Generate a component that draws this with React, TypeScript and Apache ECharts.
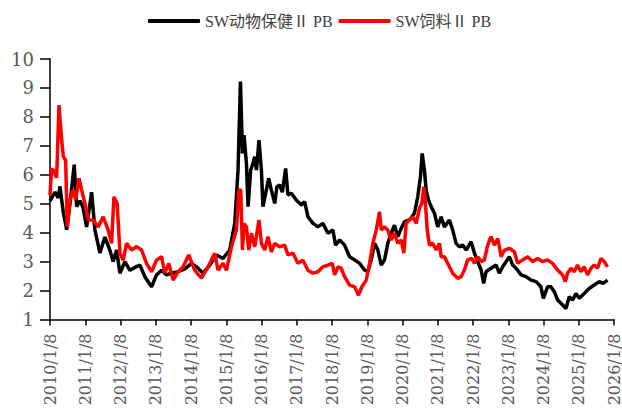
import React, { useEffect, useRef } from "react";
import * as echarts from "echarts";

const seriesNames = ["SW动物保健Ⅱ PB", "SW饲料Ⅱ PB"];
const yearTicks = [2010, 2011, 2012, 2013, 2014, 2015, 2016, 2017, 2018, 2019, 2020, 2021, 2022, 2023, 2024, 2025, 2026];

const blackDates = [
  "2010-01-08", "2010-03-01", "2010-04-04", "2010-04-21", "2010-05-26", "2010-06-30", "2010-08-03", "2010-09-16",
  "2010-10-11", "2010-11-14", "2010-12-18", "2011-01-22", "2011-03-15", "2011-04-18", "2011-06-09", "2011-07-31",
  "2011-09-20", "2011-10-24", "2011-11-29", "2012-01-02", "2012-02-23", "2012-04-14", "2012-06-05", "2012-07-27",
  "2012-09-16", "2012-11-25", "2013-01-16", "2013-03-09", "2013-04-30", "2013-06-20", "2013-08-28", "2013-11-05",
  "2014-01-13", "2014-03-06", "2014-05-13", "2014-07-22", "2014-09-29", "2014-12-06", "2015-02-13", "2015-04-06",
  "2015-05-10", "2015-06-04", "2015-06-25", "2015-07-11", "2015-08-05", "2015-08-22", "2015-09-18", "2015-10-12",
  "2015-10-30", "2015-11-17", "2015-12-13", "2016-01-07", "2016-01-23", "2016-02-20", "2016-03-22", "2016-04-19",
  "2016-05-24", "2016-06-16", "2016-07-14", "2016-08-11", "2016-09-14", "2016-10-08", "2016-11-12", "2017-01-03",
  "2017-02-24", "2017-03-30", "2017-05-04", "2017-06-25", "2017-08-15", "2017-10-06", "2017-11-27", "2018-01-17",
  "2018-02-14", "2018-03-28", "2018-05-18", "2018-07-09", "2018-08-30", "2018-10-21", "2018-12-11", "2019-01-14",
  "2019-02-18", "2019-03-25", "2019-04-28", "2019-06-02", "2019-07-06", "2019-08-09", "2019-09-13", "2019-10-17",
  "2019-11-21", "2019-12-26", "2020-01-29", "2020-03-20", "2020-05-11", "2020-06-14", "2020-07-12", "2020-07-30",
  "2020-08-22", "2020-09-09", "2020-10-03", "2020-10-31", "2020-12-04", "2021-01-08", "2021-02-12", "2021-03-18",
  "2021-05-09", "2021-06-12", "2021-07-17", "2021-08-21", "2021-09-24", "2021-10-29", "2021-12-20", "2022-01-23",
  "2022-03-05", "2022-04-02", "2022-04-29", "2022-05-23", "2022-07-14", "2022-09-04", "2022-10-08", "2022-11-11",
  "2022-12-17", "2023-01-19", "2023-02-23", "2023-03-30", "2023-05-21", "2023-07-11", "2023-09-01", "2023-10-23",
  "2023-12-13", "2024-01-06", "2024-02-19", "2024-03-25", "2024-04-29", "2024-06-02", "2024-07-24", "2024-08-28",
  "2024-10-01", "2024-11-04", "2024-12-09", "2025-01-13", "2025-03-06", "2025-04-26", "2025-06-17", "2025-08-08",
  "2025-09-18", "2025-11-02"
];
const blackValues = [
  5.1, 5.4, 5.2, 5.6, 4.7, 4.1, 5.0, 6.35,
  4.9, 5.1, 4.85, 4.2, 5.4, 4.1, 3.3, 3.85,
  3.4, 3.0, 3.4, 2.6, 3.0, 2.7, 2.8, 2.88,
  2.48, 2.13, 2.54, 2.7, 2.54, 2.6, 2.65, 2.75,
  2.94, 2.82, 2.6, 2.88, 3.23, 3.11, 3.4, 4.32,
  6.16, 9.22, 6.74, 7.37, 6.4, 4.9, 6.16, 6.4,
  6.62, 6.16, 7.2, 6.16, 4.9, 5.36, 5.88, 5.47,
  5.01, 5.59, 5.65, 5.4, 6.22, 5.3, 5.36, 5.13,
  4.96, 5.07, 4.55, 4.32, 4.2, 4.32, 3.98, 4.09,
  3.57, 3.75, 3.57, 3.17, 3.06, 2.94, 2.71, 2.65,
  3.06, 3.63, 3.4, 2.88, 3.06, 3.63, 3.98, 4.26,
  3.86, 4.15, 4.38, 4.44, 4.67, 5.24, 5.93, 6.74,
  6.16, 5.47, 5.13, 4.9, 4.67, 4.2, 4.55, 4.2,
  4.44, 4.09, 3.63, 3.51, 3.57, 3.4, 3.69, 3.29,
  2.94, 2.71, 2.25, 2.65, 2.77, 2.88, 2.6, 2.82,
  3.0, 3.17, 2.88, 2.77, 2.54, 2.48, 2.36, 2.31,
  2.13, 1.73, 2.13, 2.13, 1.96, 1.67, 1.5, 1.38,
  1.79, 1.67, 1.9, 1.73, 1.9, 2.07, 2.19, 2.31,
  2.25, 2.36
];

const redDates = [
  "2010-01-08", "2010-01-25", "2010-02-11", "2010-03-18", "2010-04-11", "2010-05-09", "2010-05-26", "2010-06-19",
  "2010-07-06", "2010-08-03", "2010-09-06", "2010-10-01", "2010-11-04", "2010-12-02", "2011-01-05", "2011-02-08",
  "2011-04-01", "2011-05-22", "2011-07-13", "2011-09-03", "2011-10-08", "2011-11-01", "2011-12-05", "2012-01-02",
  "2012-02-05", "2012-03-11", "2012-05-02", "2012-06-23", "2012-08-13", "2012-10-04", "2012-11-25", "2013-01-16",
  "2013-03-09", "2013-04-12", "2013-05-23", "2013-07-07", "2013-08-28", "2013-10-18", "2013-12-16", "2014-02-16",
  "2014-04-26", "2014-07-04", "2014-09-11", "2014-10-15", "2014-12-06", "2015-01-10", "2015-03-03", "2015-04-23",
  "2015-05-20", "2015-06-07", "2015-06-25", "2015-07-11", "2015-08-05", "2015-08-29", "2015-09-26", "2015-10-30",
  "2015-12-13", "2016-01-07", "2016-02-10", "2016-03-15", "2016-04-19", "2016-05-24", "2016-07-14", "2016-09-04",
  "2016-10-08", "2016-11-29", "2017-01-20", "2017-03-13", "2017-05-04", "2017-06-25", "2017-08-15", "2017-10-06",
  "2017-11-27", "2018-01-11", "2018-02-04", "2018-03-10", "2018-04-14", "2018-05-18", "2018-07-09", "2018-08-30",
  "2018-10-10", "2018-11-13", "2018-12-29", "2019-02-01", "2019-03-07", "2019-04-11", "2019-05-15", "2019-06-02",
  "2019-07-06", "2019-08-09", "2019-09-13", "2019-10-17", "2019-11-21", "2019-12-26", "2020-01-22", "2020-02-15",
  "2020-03-20", "2020-04-24", "2020-05-29", "2020-07-02", "2020-07-26", "2020-08-15", "2020-09-02", "2020-09-20",
  "2020-10-13", "2020-11-16", "2020-12-22", "2021-01-26", "2021-02-12", "2021-03-18", "2021-04-21", "2021-06-12",
  "2021-08-03", "2021-09-07", "2021-10-11", "2021-11-14", "2021-12-26", "2022-01-23", "2022-02-26", "2022-04-02",
  "2022-05-06", "2022-06-09", "2022-07-14", "2022-08-18", "2022-09-22", "2022-10-27", "2022-11-30", "2023-01-19",
  "2023-03-12", "2023-04-15", "2023-06-06", "2023-07-28", "2023-09-17", "2023-11-08", "2023-12-30", "2024-02-19",
  "2024-04-11", "2024-06-02", "2024-07-24", "2024-08-21", "2024-09-13", "2024-10-18", "2024-11-22", "2024-12-26",
  "2025-01-31", "2025-03-06", "2025-04-09", "2025-05-14", "2025-06-17", "2025-07-22", "2025-08-26", "2025-09-29",
  "2025-11-02"
];
const redValues = [
  5.3, 6.2, 6.16, 5.9, 8.41, 7.2, 6.62, 6.5,
  4.2, 5.13, 5.47, 5.13, 5.88, 5.47, 5.0, 4.44,
  4.44, 4.2, 4.55, 4.09, 3.63, 5.24, 5.0, 3.29,
  3.05, 3.63, 3.4, 3.52, 3.4, 2.94, 2.65, 3.05,
  3.17, 2.6, 2.94, 2.36, 2.65, 2.82, 3.23, 2.7,
  2.43, 2.82, 3.29, 2.7, 2.94, 2.7, 3.51, 4.09,
  5.47, 5.47, 3.4, 4.32, 4.2, 3.4, 3.98, 3.51,
  4.44, 3.63, 3.4, 3.86, 3.34, 3.63, 3.51, 3.57,
  3.23, 3.29, 2.94, 3.05, 2.7, 2.6, 2.65, 2.82,
  2.88, 2.94, 2.54, 2.82, 2.77, 2.48, 2.19, 2.13,
  1.84, 2.13, 2.36, 2.94, 3.63, 4.09, 4.72, 4.09,
  4.2, 4.09, 3.75, 3.98, 3.63, 3.75, 3.29, 4.32,
  4.44, 4.55, 4.32, 4.84, 5.01, 5.59, 5.01, 4.09,
  3.57, 3.63, 3.4, 3.63, 3.17, 3.17, 2.94, 2.6,
  2.42, 2.48, 2.71, 3.06, 3.11, 2.94, 3.17, 3.0,
  3.06, 3.57, 3.86, 3.57, 3.8, 3.17, 3.4, 3.46,
  3.34, 2.94, 3.06, 3.17, 3.0, 3.11, 3.0, 3.06,
  2.94, 2.71, 2.54, 2.31, 2.6, 2.77, 2.65, 2.88,
  2.65, 2.82, 2.54, 2.77, 2.88, 2.77, 3.11, 3.0,
  2.82
];

// convert a date to fractional years counted from Jan 8 of each year
function toYearPos(d: string): number {
  const [y, m, day] = d.split("-").map(Number);
  const t = Date.UTC(y, m - 1, day);
  const base = Date.UTC(y, 0, 8);
  return y + (t - base) / (365.25 * 86400000);
}

function pairs(dates: string[], values: number[]) {
  return dates.map((d, i) => [toYearPos(d), values[i]]);
}

export default function App() {
  const ref = useRef<HTMLDivElement>(null);
  useEffect(() => {
    if (!ref.current) return;
    const chart = echarts.init(ref.current, undefined, { renderer: "svg" });
    const axisFont = "'DejaVu Serif', 'Liberation Serif', serif";
    chart.setOption({
      animation: false,
      backgroundColor: "#ffffff",
      legend: {
        left: 143,
        top: 8,
        itemWidth: 52,
        itemHeight: 4,
        itemGap: 6,
        icon: "roundRect",
        textStyle: {
          fontFamily: "'Liberation Serif', 'Noto Sans CJK SC', serif",
          fontSize: 16,
          color: "#404040",
        },
        data: seriesNames,
      },
      grid: { left: 50, right: 7, top: 59, bottom: 92.5 },
      xAxis: {
        type: "value",
        min: yearTicks[0],
        max: yearTicks[yearTicks.length - 1],
        interval: 1,
        splitLine: { show: false },
        axisLine: { show: true, lineStyle: { color: "#000", width: 1.5 } },
        axisTick: { show: true, length: 6, lineStyle: { color: "#000", width: 1.5 } },
        axisLabel: {
          rotate: 90,
          margin: 14,
          color: "#595959",
          fontFamily: axisFont,
          fontSize: 16,
          formatter: (v: number) => `${v}/1/8`,
        },
      },
      yAxis: {
        type: "value",
        min: 1,
        max: 10,
        interval: 1,
        splitLine: { show: false },
        axisLine: { show: true, lineStyle: { color: "#000", width: 1.5 } },
        axisTick: { show: true, length: 10, lineStyle: { color: "#000", width: 1.5 } },
        axisLabel: {
          margin: 16,
          color: "#595959",
          fontFamily: axisFont,
          fontSize: 18,
        },
      },
      series: [
        {
          name: seriesNames[0],
          type: "line",
          showSymbol: false,
          symbol: "none",
          data: pairs(blackDates, blackValues),
          lineStyle: { color: "#000000", width: 3.5 },
          itemStyle: { color: "#000000" },
        },
        {
          name: seriesNames[1],
          type: "line",
          showSymbol: false,
          symbol: "none",
          data: pairs(redDates, redValues),
          lineStyle: { color: "#ff0000", width: 3.5 },
          itemStyle: { color: "#ff0000" },
        },
      ],
    });
    return () => chart.dispose();
  }, []);
  return (
    <div
      ref={ref}
      style={{ position: "fixed", left: 0, top: 0, width: 622, height: 412, background: "#fff" }}
    />
  );
}
